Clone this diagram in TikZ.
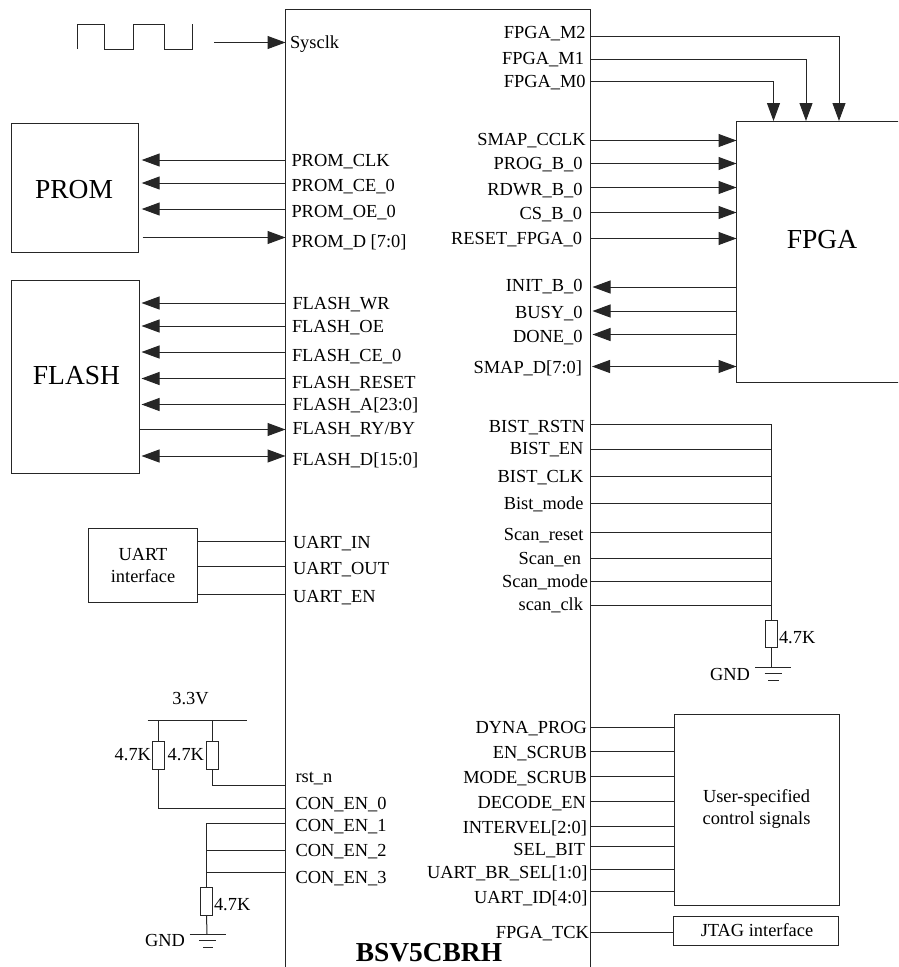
\documentclass[tikz,border=0pt]{standalone}
\usepackage{fontspec}
\setmainfont{Liberation Serif}
\usetikzlibrary{arrows.meta}
\tikzset{
  wire/.style={line width=1pt,draw=black!85},
  tri/.style={wire,arrows={-Triangle[length=18pt,width=13pt]}},
  dbl/.style={wire,arrows={Triangle[length=18pt,width=13pt]-Triangle[length=18pt,width=13pt]}},
  blk/.style={draw=black!85,line width=1pt,rectangle,outer sep=0pt,inner sep=0pt},
  res/.style={blk,minimum width=11.5pt,minimum height=27.5pt},
  lab/.style={anchor=base west,inner sep=0pt,outer sep=0pt,yshift=-6pt,font=\fontsize{18.4}{20}\selectfont},
  rab/.style={anchor=base east,inner sep=0pt,outer sep=0pt,yshift=-6pt,font=\fontsize{18.4}{20}\selectfont},
  txt/.style={inner sep=0pt,outer sep=0pt,font=\fontsize{18.4}{22}\selectfont,align=center},
  big/.style={inner sep=0pt,outer sep=0pt,font=\fontsize{27.5}{30}\selectfont},
}
\begin{document}
\begin{tikzpicture}[x=1pt,y=-1pt]
\useasboundingbox (0,0) rectangle (898,967);
\clip (0,0) rectangle (898,967);
% blocks
\node[blk,minimum width=305pt,minimum height=980.3pt] (chip) at (438,499.85) {};
\node[blk,minimum width=127pt,minimum height=129.5pt] (prom) at (75.2,187.75) {};
\node[big] (promt) at (74,190) {PROM};
\node[blk,minimum width=127.8pt,minimum height=192.5pt] (flash) at (75.6,376.75) {};
\node[big] (flasht) at (76.5,376) {FLASH};
\node[blk,minimum width=171.5pt,minimum height=261.7pt] (fpga) at (822.25,251.85) {};
\node[big] (fpgat) at (822,240) {FPGA};
\node[blk,minimum width=108.3pt,minimum height=73.3pt] (uart) at (142.85,565.35) {};
\node[txt] (uartt) at (143,565.5) {UART\\interface};
\node[blk,minimum width=164.5pt,minimum height=191pt] (user) at (756.75,809.5) {};
\node[txt] (usert) at (756.5,809) {User-specified\\control signals};
\node[blk,minimum width=164.5pt,minimum height=29.2pt] (jtag) at (755.75,931.1) {};
\node[txt] (jtagt) at (757,930.5) {JTAG interface};
\node[inner sep=0pt,font=\bfseries\fontsize{27.4}{30}\selectfont] (chipt) at (429,953) {BSV5CBRH};
% clock
\coordinate (clk0) at (77,49);
\coordinate (clk1) at (214,42.5);
\draw[wire] (clk0) -- (77,24) -- (104.5,24) -- (104.5,49) -- (133.5,49) -- (133.5,24) -- (164.5,24) -- (164.5,49) -- (192,49) -- (192,24);
\draw[tri] (clk1) -- (chip.west |- clk1);
\node[lab] (sysclk) at (290,42) {Sysclk};
% PROM
\foreach \n/\ly/\ty/\lx/\t in {pc/160/160/291.5/PROM\_CLK,pce/183/185/291.5/PROM\_CE\_0,poe/209/211/291.5/PROM\_OE\_0}{
  \draw[tri,shorten >=3pt] (chip.west |- 0,\ly) -- (prom.east |- 0,\ly);
  \node[lab] (\n) at (\lx,\ty) {\t};
}
\draw[tri,shorten <=4pt] (prom.east |- 0,237.5) -- (chip.west |- 0,237.5);
\node[lab] (pd) at (291.5,241) {PROM\_D [7:0]};
% FLASH
\foreach \n/\ly/\ty/\lx/\t in {fw/303/303/292.5/FLASH\_WR,foe/326/326/292/FLASH\_OE,fce/352/355/292/FLASH\_CE\_0,frs/378.5/382/292/FLASH\_RESET,fa/404.5/404/292.5/FLASH\_A[23:0]}{
  \draw[tri,shorten >=2pt] (chip.west |- 0,\ly) -- (flash.east |- 0,\ly);
  \node[lab] (\n) at (\lx,\ty) {\t};
}
\draw[tri] (flash.east |- 0,429.5) -- (chip.west |- 0,429.5);
\node[lab] (fry) at (292.5,428) {FLASH\_RY/BY};
\draw[dbl,shorten <=2pt] (flash.east |- 0,456) -- (chip.west |- 0,456);
\node[lab] (fd) at (292.5,459) {FLASH\_D[15:0]};
% UART
\foreach \n/\ly/\ty/\t in {ui/541.7/542/UART\_IN,uo/566.7/568/UART\_OUT,ue/594/596/UART\_EN}{
  \draw[wire] (uart.east |- 0,\ly) -- (chip.west |- 0,\ly);
  \node[lab] (\n) at (293,\ty) {\t};
}
% 3.3V
\node[txt] (v33) at (190.5,699) {3.3V};
\coordinate (railA) at (147.5,720);
\coordinate (railB) at (247,720);
\draw[wire] (railA) -- (railB);
\node[res] (r1) at (158.25,755.25) {};
\node[res] (r2) at (212.25,755.25) {};
\draw[wire] (r1.north) -- (r1.north |- railA);
\draw[wire] (r2.north) -- (r2.north |- railA);
\node[txt,anchor=east] (r1t) at (151,754.5) {4.7K};
\node[txt,anchor=east] (r2t) at (204,754.5) {4.7K};
\draw[wire] (r2.south) |- (chip.west |- 0,785);
\draw[wire] (r1.south) |- (chip.west |- 0,808);
\foreach \n/\y/\t in {rst/776/rst\_n,ce0/803/CON\_EN\_0,ce1/825/CON\_EN\_1,ce2/850/CON\_EN\_2,ce3/877/CON\_EN\_3}{
  \node[lab] (\n) at (295.5,\y) {\t};
}
\node[res] (r3) at (206.5,901.25) {};
\draw[wire] (r3.north) |- (chip.west |- 0,823);
\draw[wire] (r3.north |- 0,850) -- (chip.west |- 0,850);
\draw[wire] (r3.north |- 0,872.5) -- (chip.west |- 0,872.5);
\node[txt,anchor=west] (r3t) at (214,904.5) {4.7K};
\coordinate (g1) at (207,934);
\draw[wire] (r3.south) -- (g1);
\draw[wire] (189.5,934) -- (226,934);
\draw[wire] (199,940.5) -- (216,940.5);
\draw[wire] (203,947) -- (213,947);
\node[txt,anchor=east] (g1t) at (185,940) {GND};
% FPGA mode
\foreach \n/\ly/\x/\ty/\rx/\t in {m2/36.5/839/32/585.7/FPGA\_M2,m1/59/806/58/584/FPGA\_M1,m0/81.5/773.5/81/585.7/FPGA\_M0}{
  \draw[tri] (chip.east |- 0,\ly) -| (\x,121 |- fpga.north);
  \node[rab] (\n) at (\rx,\ty) {\t};
}
% to FPGA
\foreach \n/\ly/\ty/\rx/\t in {sc/140.5/139/585.7/SMAP\_CCLK,pb/163.5/163/582.5/PROG\_B\_0,rb/187.5/189/582.5/RDWR\_B\_0,cb/212.5/213/582/CS\_B\_0,rf/238.5/238/582/RESET\_FPGA\_0}{
  \draw[tri] (chip.east |- 0,\ly) -- (fpga.west |- 0,\ly);
  \node[rab] (\n) at (\rx,\ty) {\t};
}
\foreach \n/\ly/\ty/\t in {ib/287/285/INIT\_B\_0,bu/311/312/BUSY\_0,dn/334.5/336/DONE\_0}{
  \draw[tri,shorten >=2pt] (fpga.west |- 0,\ly) -- (chip.east |- 0,\ly);
  \node[rab] (\n) at (582.5,\ty) {\t};
}
\draw[dbl,shorten <=1.5pt] (chip.east |- 0,366.5) -- (fpga.west |- 0,366.5);
\node[rab] (sd) at (582,367) {SMAP\_D[7:0]};
% BIST bus
\node[res,minimum width=12pt] (r4) at (771.5,633.9) {};
\draw[wire] (chip.east |- 0,424.5) -| (r4.north);
\foreach \n/\ly/\ty/\rx/\t in {br/424.5/426/585/BIST\_RSTN,be/449.5/448/583.5/BIST\_EN,bc/476.5/476/583.5/BIST\_CLK,bm/503.3/503/583.5/Bist\_mode,sr/532.5/534/583.5/Scan\_reset,se/558.7/558/581/Scan\_en,sm/581.5/581/588/Scan\_mode,sk/605/604/583/scan\_clk}{
  \draw[wire] (chip.east |- 0,\ly) -- (r4.north |- 0,\ly);
  \node[rab] (\n) at (\rx,\ty) {\t};
}
\node[txt,anchor=west] (r4t) at (779,638) {4.7K};
\coordinate (g2) at (772,667.3);
\draw[wire] (r4.south) -- (r4.south |- g2);
\draw[wire] (755,667.3) -- (791,667.3);
\draw[wire] (764.5,673.5) -- (781.5,673.5);
\draw[wire] (768,680.5) -- (779,680.5);
\node[txt,anchor=east] (g2t) at (750,674.5) {GND};
% user signals
\foreach \n/\ly/\ty/\rx/\t in {dp/727/727/587/DYNA\_PROG,es/751/752/587/EN\_SCRUB,ms/776/777/587/MODE\_SCRUB,de/801/802/586/DECODE\_EN,iv/826.5/827/587/INTERVEL[2:0],sb/846.7/849/585/SEL\_BIT,ub/869/872/587.5/UART\_BR\_SEL[1:0],ud/891.5/897/587.5/UART\_ID[4:0]}{
  \draw[wire] (chip.east |- 0,\ly) -- (user.west |- 0,\ly);
  \node[rab] (\n) at (\rx,\ty) {\t};
}
\draw[wire] (chip.east |- 0,932.6) -- (jtag.west |- 0,932.6);
\node[rab] (tck) at (589,932) {FPGA\_TCK};
\end{tikzpicture}
\end{document}
